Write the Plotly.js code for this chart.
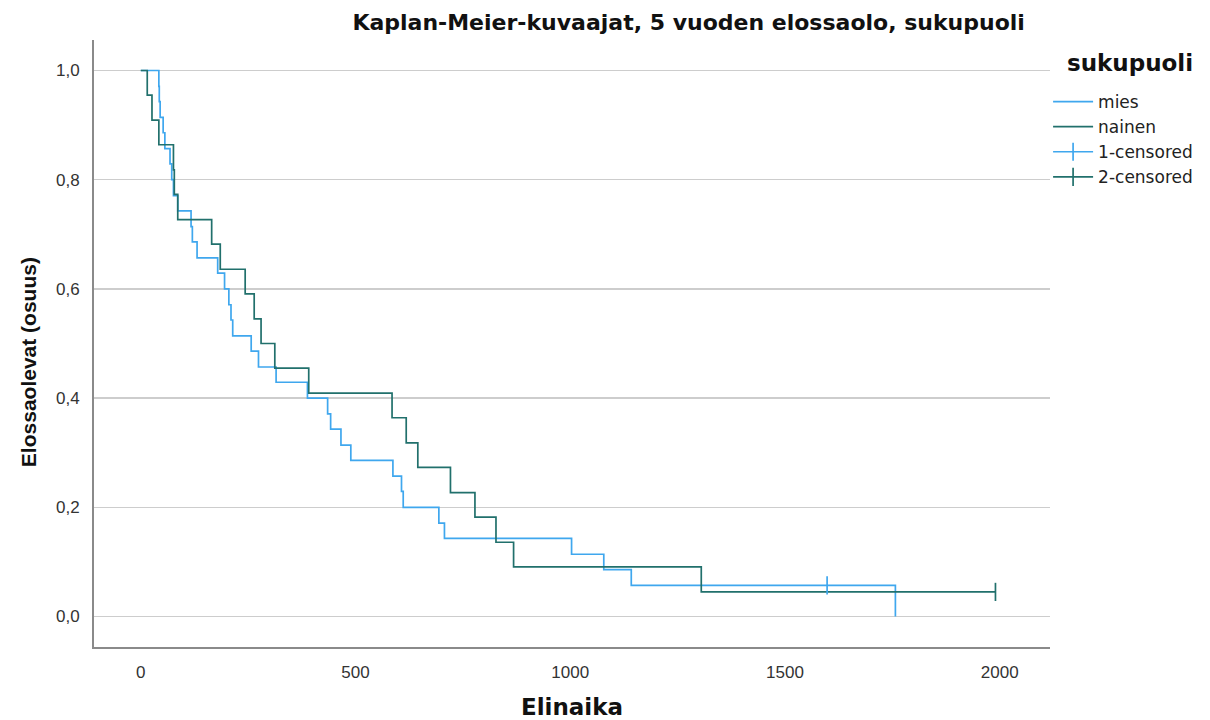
<!DOCTYPE html>
<html>
<head>
<meta charset="utf-8">
<script src="https://cdn.plot.ly/plotly-3.0.1.min.js"></script>
<style>html,body{margin:0;padding:0;background:#fff;}#chart{width:1210px;height:720px;}</style>
</head>
<body>
<div id="chart"></div>
<script>
// Kaplan-Meier estimates
const miesTime = [0, 42, 43, 45, 52, 56, 68, 72, 76, 86, 117, 120, 131, 179, 195, 205, 210, 214, 257, 274, 315, 388, 435, 442, 466, 489, 587, 607, 611, 694, 707, 1003, 1078, 1142, 1598, 1757];
const miesSurv = [1.000, 0.971, 0.943, 0.914, 0.886, 0.857, 0.829, 0.800, 0.771, 0.743, 0.714, 0.686, 0.657, 0.629, 0.600, 0.571, 0.543, 0.514, 0.486, 0.457, 0.429, 0.400, 0.371, 0.343, 0.314, 0.286, 0.257, 0.229, 0.200, 0.171, 0.143, 0.114, 0.086, 0.057, 0.057, 0.000];
const nainenTime = [0, 15, 26, 42, 76, 78, 86, 165, 185, 243, 264, 280, 312, 391, 585, 618, 645, 721, 778, 827, 868, 1305, 1990];
const nainenSurv = [1.000, 0.955, 0.909, 0.864, 0.818, 0.773, 0.727, 0.682, 0.636, 0.591, 0.545, 0.500, 0.455, 0.409, 0.364, 0.318, 0.273, 0.227, 0.182, 0.136, 0.091, 0.045, 0.045];
const miesCensTime = [1598];
const miesCensSurv = [0.057];
const nainenCensTime = [1990];
const nainenCensSurv = [0.045];
const xTicks = [0, 500, 1000, 1500, 2000];
const yTicks = [0, 0.2, 0.4, 0.6, 0.8, 1.0];
const seriesNames = ['mies', 'nainen', '1-censored', '2-censored'];
const legendTitle = 'sukupuoli';

const BLUE = '#3fa7ee';
const TEAL = '#21706c';

const traces = [
  {x: miesTime, y: miesSurv, name: seriesNames[0], type: 'scatter', mode: 'lines',
   line: {shape: 'hv', color: BLUE, width: 1.7}},
  {x: nainenTime, y: nainenSurv, name: seriesNames[1], type: 'scatter', mode: 'lines',
   line: {shape: 'hv', color: TEAL, width: 1.7}},
  {x: miesCensTime, y: miesCensSurv, name: seriesNames[2], type: 'scatter', mode: 'lines+markers',
   line: {color: BLUE, width: 1.7},
   marker: {symbol: 'line-ns', size: 13, line: {color: BLUE, width: 1.7}}},
  {x: nainenCensTime, y: nainenCensSurv, name: seriesNames[3], type: 'scatter', mode: 'lines+markers',
   line: {color: TEAL, width: 1.7},
   marker: {symbol: 'line-ns', size: 13, line: {color: TEAL, width: 1.7}}}
];

const layout = {
  width: 1210, height: 720,
  paper_bgcolor: '#ffffff', plot_bgcolor: '#ffffff',
  separators: ', ',
  margin: {l: 94, r: 158, t: 40, b: 73},
  font: {family: '"Liberation Sans", Arial, sans-serif', color: '#333333', size: 17},
  title: {
    text: 'Kaplan-Meier-kuvaajat, 5 vuoden elossaolo, sukupuoli',
    font: {family: '"DejaVu Sans", sans-serif', size: 22, color: '#111111', weight: 'bold'},
    x: 0.622, xref: 'paper', xanchor: 'center',
    y: 0.969, yref: 'container', yanchor: 'middle'
  },
  xaxis: {
    range: [-109, 2117],
    tickvals: xTicks, tickformat: 'd',
    showgrid: false, zeroline: false,
    showline: true, linecolor: '#8a8a8a', linewidth: 2,
    ticks: 'outside', ticklen: 9, tickcolor: 'rgba(0,0,0,0)',
    tickfont: {size: 17, color: '#333333'},
    title: {text: 'Elinaika', standoff: 23,
            font: {family: '"DejaVu Sans", sans-serif', size: 23, color: '#111111', weight: 'bold'}}
  },
  yaxis: {
    range: [-0.0559, 1.0559],
    tickvals: yTicks, tickformat: '.1f',
    showgrid: true, gridcolor: '#cdcdcd', gridwidth: 1.5,
    zeroline: false,
    showline: true, linecolor: '#8a8a8a', linewidth: 2,
    ticks: 'outside', ticklen: 9, tickcolor: 'rgba(0,0,0,0)',
    tickfont: {size: 17, color: '#333333'}
  },
  annotations: [
    {text: 'Elossaolevat (osuus)', textangle: -90, showarrow: false,
     xref: 'paper', yref: 'paper', x: -0.0689, y: 0.4695, xanchor: 'center', yanchor: 'middle',
     font: {family: '"Liberation Sans", Arial, sans-serif', size: 21, color: '#111111', weight: 'bold'}},
    {text: legendTitle, showarrow: false,
     xref: 'paper', yref: 'paper', x: 1.0157, y: 0.962, xanchor: 'left', yanchor: 'middle',
     font: {family: '"DejaVu Sans", sans-serif', size: 23, color: '#111111', weight: 'bold'}}
  ],
  showlegend: true,
  legend: {
    x: 0.998, xanchor: 'left', xref: 'paper',
    y: 0.9275, yanchor: 'top', yref: 'paper',
    bgcolor: 'rgba(0,0,0,0)',
    itemwidth: 40,
    font: {family: '"DejaVu Sans", sans-serif', size: 17, color: '#222222'},
    tracegroupgap: 0
  }
};

Plotly.newPlot('chart', traces, layout, {staticPlot: true, displayModeBar: false});
</script>
</body>
</html>
